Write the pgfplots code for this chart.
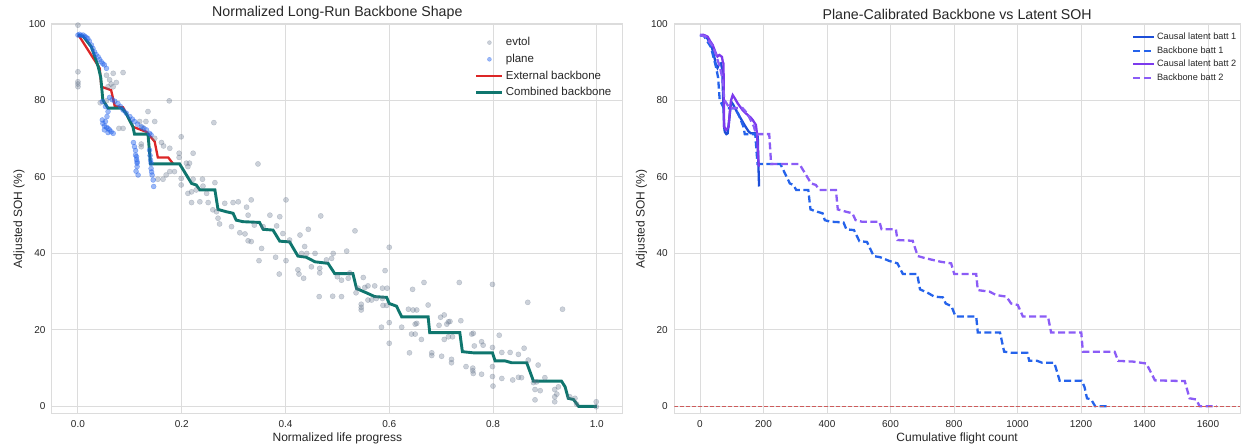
\documentclass[border=0pt]{standalone}
\usepackage{fontspec}
\setmainfont{Liberation Sans}
\usepackage{pgfplots}
\pgfplotsset{compat=1.18}

\definecolor{gridc}{RGB}{220,220,220}
\definecolor{txt}{RGB}{38,38,38}
\definecolor{evtolc}{RGB}{100,116,139}
\definecolor{planec}{RGB}{37,99,235}
\definecolor{extred}{RGB}{220,38,38}
\definecolor{combteal}{RGB}{15,118,110}
\definecolor{causal1}{RGB}{29,78,216}
\definecolor{back1}{RGB}{37,99,235}
\definecolor{causal2}{RGB}{124,58,237}
\definecolor{back2}{RGB}{139,92,246}
\definecolor{zeroc}{RGB}{205,92,92}

\pgfplotsset{
  sbstyle/.style={
    scale only axis, height=390pt,
    ymin=-2, ymax=100, ytick={0,20,40,60,80,100},
    grid=major, major grid style={gridc, line width=0.9pt},
    axis line style={gridc, line width=1pt},
    major tick length=0pt,
    tick label style={font=\fontsize{10}{12}\selectfont, text=txt},
    yticklabel style={xshift=-3pt},
    xticklabel style={yshift=-3pt},
    /pgf/number format/assume math mode=true,
    /pgf/number format/1000 sep={},
    label style={font=\fontsize{12}{14}\selectfont, text=txt},
    title style={font=\fontsize{14.2}{16}\selectfont, text=txt, at={(0.5,1)}, anchor=south, yshift=-5pt},
    xlabel style={at={(axis description cs:0.5,0)}, anchor=center, yshift=-24pt},
    ylabel style={at={(axis description cs:-0.058,0.5)}, anchor=center},
    legend cell align=left,
  }
}

\begin{document}
\begin{tikzpicture}
\useasboundingbox (0,0) rectangle (1242pt,446pt);

% ---------------- left panel ----------------
\begin{axis}[sbstyle,
  at={(52pt,32pt)}, anchor=south west, width=570.7pt,
  xmin=-0.05, xmax=1.05, xtick={0,0.2,0.4,0.6,0.8,1},
  xticklabel style={/pgf/number format/.cd, fixed, fixed zerofill, precision=1},
  title={Normalized Long-Run Backbone Shape},
  xlabel={Normalized life progress},
  ylabel={Adjusted SOH (\%)},
  legend style={at={(0.984,0.972)}, anchor=north east, draw=none, fill=none,
    inner sep=0pt, font=\fontsize{11.5}{13}\selectfont, text=txt,
    nodes={inner sep=2pt, text height=8.5pt, text depth=2.5pt},
    row sep=1.7pt,
    /tikz/every even column/.append style={column sep=7pt}},
  legend image code/.code={\draw[mark repeat=2,mark phase=2,#1] plot coordinates {(0pt,0pt) (13pt,0pt) (26pt,0pt)};},
  legend image post style={mark size=2pt},
]
% evtol scatter
\addplot[only marks, mark=*, mark size=2.6pt, color=evtolc,
  mark options={fill=evtolc, draw=evtolc, fill opacity=0.33, draw opacity=0.33}] coordinates {
(0,99.7) (0,87.5) (0,84.9) (0,84.3) (0,83.6) (0.055,86.6) (0.068,87.1) (0.087,87.3)
(0.061,85.4) (0.074,84.7) (0.064,84.3) (0.068,83.6) (0.058,83.6) (0.043,79.4) (0.055,79.9)
(0.176,79.9) (0.135,77.1) (0.119,74.5) (0.131,74.5) (0.148,74.5) (0.079,72.7) (0.087,72.7)
(0.124,73.0) (0.262,74.2) (0.148,70.1) (0.161,69.0) (0.165,68.1) (0.177,67.5) (0.199,70.5)
(0.222,66.2) (0.195,66.2) (0.195,65.1) (0.209,63.6) (0.215,63.6) (0.122,68.6) (0.122,67.9)
(0.347,63.4)
(0.212,62.7) (0.177,61.4) (0.186,61.4) (0.170,60.5) (0.164,59.4) (0.154,59.4) (0.199,59.6)
(0.199,57.9) (0.222,59.4) (0.240,59.4) (0.264,58.5) (0.212,55.7) (0.219,56.1) (0.228,56.6)
(0.241,57.6) (0.248,55.7) (0.219,53.3) (0.235,53.5) (0.251,53.3) (0.260,51.4) (0.267,50.9)
(0.270,49.2) (0.273,47.7) (0.283,53.1) (0.299,53.3) (0.309,53.5) (0.334,54.0) (0.325,52.1)
(0.328,50.0) (0.296,47.0) (0.312,45.4) (0.322,45.1) (0.328,43.3) (0.334,43.1) (0.354,41.3)
(0.340,47.4) (0.357,47.0) (0.370,50.0) (0.389,49.6) (0.383,47.2) (0.395,45.2) (0.401,54.0)
(0.408,43.5) (0.428,44.8) (0.349,38.1) (0.381,39.0) (0.401,38.1) (0.388,34.6) (0.424,35.7)
(0.426,34.6)
(0.468,49.8) (0.444,46.3) (0.437,41.8) (0.457,40.0) (0.441,40.0) (0.431,40.0) (0.435,33.5)
(0.450,36.5) (0.466,36.1) (0.466,34.9) (0.479,38.3) (0.492,40.0) (0.489,38.7) (0.518,40.6)
(0.534,45.9) (0.524,34.9) (0.500,33.9) (0.508,33.0) (0.521,33.5) (0.465,28.7) (0.491,28.8)
(0.508,28.7) (0.536,29.7) (0.540,30.9) (0.553,31.1) (0.559,31.5) (0.572,31.5) (0.550,33.7)
(0.546,26.7) (0.546,25.9) (0.546,25.2) (0.559,27.8) (0.566,27.8) (0.575,28.2) (0.587,28.2)
(0.592,35.5) (0.587,30.9) (0.596,30.9) (0.588,26.4) (0.595,26.4) (0.600,41.6) (0.600,21.9)
(0.600,16.5) (0.585,20.7) (0.624,20.7) (0.637,25.4) (0.646,25.2) (0.653,25.2) (0.645,30.6)
(0.667,32.4) (0.675,26.5) (0.639,14.0) (0.650,21.5) (0.653,21.7) (0.643,18.9) (0.650,18.9)
(0.662,17.5) (0.682,14.0) (0.682,13.3) (0.699,23.3) (0.706,23.9) (0.696,21.2) (0.711,21.5)
(0.714,22.1) (0.717,22.2) (0.701,13.1) (0.720,12.3) (0.720,11.4) (0.706,17.5) (0.714,18.2)
(0.722,18.2) (0.735,32.4) (0.738,22.4) (0.759,18.9) (0.762,19.1) (0.764,15.8) (0.778,16.9)
(0.781,16.0) (0.748,10.4) (0.761,10.0) (0.761,9.3) (0.778,8.4) (0.762,8.6) (0.799,31.9)
(0.799,15.4) (0.812,18.6) (0.799,10.4) (0.799,7.8) (0.800,5.3) (0.817,14.1) (0.833,14.1)
(0.849,13.6) (0.860,15.2) (0.868,12.1) (0.887,10.8) (0.817,7.3) (0.838,6.9) (0.849,7.6)
(0.855,7.5) (0.878,6.2) (0.884,6.4) (0.867,27.2) (0.881,4.4) (0.891,4.1) (0.881,1.7)
(0.900,7.5) (0.919,4.4) (0.919,2.5) (0.919,1.2) (0.926,5.1) (0.923,3.2) (0.934,25.4)
(0.948,2.5) (0.958,2.1) (0.961,0.6) (0.999,1.2) (0.999,-0.1)
};
\addlegendentry{evtol}
% plane scatter
\addplot[only marks, mark=*, mark size=2.5pt, color=planec,
  mark options={fill=planec, draw=planec, fill opacity=0.45, draw opacity=0.45}] coordinates {
(0,97.1) (0.003,97.3) (0.006,97.0) (0.010,97.1) (0.013,96.8) (0.016,96.5) (0.019,96.2)
(0.022,95.5) (0.026,94.5) (0.029,93.6) (0.032,92.7) (0.035,92.0) (0.039,91.4) (0.042,90.7)
(0.045,90.1) (0.048,89.6) (0.051,89.3) (0.055,88.4)
(0.047,79.7) (0.053,78.4) (0.058,77.1) (0.061,80.8) (0.066,80.2) (0.071,79.8) (0.077,79.2)
(0.082,78.4) (0.087,77.5) (0.093,76.7) (0.100,75.8) (0.105,75.1) (0.109,74.5) (0.115,73.8)
(0.122,73.1) (0.127,72.7) (0.132,72.3) (0.138,71.4) (0.141,71.0)
(0.048,74.0) (0.051,73.3) (0.055,73.0) (0.058,72.7) (0.061,72.3) (0.064,71.8) (0.068,71.4)
(0.051,72.3) (0.058,71.6) (0.047,74.9) (0.053,74.5) (0.056,75.8)
(0.107,69.0) (0.109,67.9) (0.111,66.9) (0.111,65.7) (0.113,64.6) (0.114,63.6) (0.114,62.7)
(0.113,65.3) (0.114,64.0) (0.116,60.5) (0.112,61.5)
(0.138,67.0) (0.140,64.4) (0.141,62.2) (0.143,60.5) (0.145,59.2) (0.146,57.5) (0.141,63.6)
(0.139,65.6) (0.142,61.3)
};
\addlegendentry{plane}
% external backbone
\addplot[extred, line width=2.3pt] coordinates {
(0,97.1) (0.003,96.7) (0.042,88.4) (0.045,83.6) (0.064,82.7) (0.071,78.5) (0.087,78.2)
(0.106,73.1) (0.132,71.8) (0.148,69.2) (0.154,65.1) (0.174,65.1) (0.183,63.5)
};
\addlegendentry{External backbone}
% combined backbone
\addplot[combteal, line width=2.9pt] coordinates {
(0,97.1) (0.010,96.8) (0.026,94.0) (0.039,88.9) (0.044,86.0) (0.048,80.1) (0.058,78.0)
(0.084,78.0) (0.093,76.6) (0.106,73.1) (0.109,71.2) (0.135,71.2) (0.140,63.4) (0.196,63.4)
(0.219,58.3) (0.228,57.9) (0.235,56.6) (0.264,56.6) (0.270,51.5) (0.286,50.9) (0.299,50.5)
(0.305,48.7) (0.318,48.3) (0.350,48.1) (0.357,46.3) (0.376,46.1) (0.389,43.2) (0.408,43.0)
(0.424,39.3) (0.440,39.0) (0.457,37.8) (0.482,37.4) (0.495,34.7) (0.530,34.7) (0.537,30.8)
(0.556,29.7) (0.572,28.7) (0.595,28.5) (0.600,26.9) (0.614,26.2) (0.624,23.4) (0.675,23.4)
(0.678,19.3) (0.736,19.3) (0.741,14.3) (0.762,14.0) (0.799,14.0) (0.804,11.9) (0.823,11.9)
(0.836,11.4) (0.865,11.4) (0.878,6.6) (0.932,6.6) (0.939,5.1) (0.945,2.1) (0.955,1.8)
(0.965,0) (1.0,0)
};
\addlegendentry{Combined backbone}
\end{axis}

% ---------------- right panel ----------------
\begin{axis}[sbstyle,
  at={(674.3pt,32pt)}, anchor=south west, width=565.7pt,
  xmin=-81, xmax=1701, xtick={0,200,400,600,800,1000,1200,1400,1600},
  title={Plane-Calibrated Backbone vs Latent SOH},
  xlabel={Cumulative flight count},
  ylabel={Adjusted SOH (\%)},
  legend style={at={(0.9965,0.982)}, anchor=north east, draw=none, fill=none,
    inner sep=0pt, font=\fontsize{9.2}{11}\selectfont, text=txt,
    nodes={inner sep=1.5pt, text height=7pt, text depth=2pt},
    row sep=1.5pt,
    /tikz/every even column/.append style={column sep=3pt}},
  legend image code/.code={\draw[#1] (0pt,0pt) -- (21pt,0pt);},
]
\addplot[causal1, line width=2.3pt] coordinates {
(0,97.1) (12,97.0) (19,96.8) (28,95.5) (35,94.5) (42,92.5) (45,91.4) (50,89.3) (55,88.5)
(60,89.5) (66,89.7) (70,88.0) (73,80.0) (76,73.0) (78,71.8) (83,71.2) (87,71.4) (92,75.0)
(98,79.7) (104,79.0) (119,76.6) (140,73.6) (152,72.0) (160,71.4) (176,71.4) (182,70.5)
(184,63.0) (186,57.5)
};
\addlegendentry{Causal latent batt 1}
\addplot[back1, line width=2.3pt, dash pattern=on 7pt off 3.5pt] coordinates {
(0,97.1) (13,96.8) (34,94.0) (50,88.9) (57,86.0) (62,80.1) (75,78.0) (108,78.0) (120,76.6)
(137,73.1) (141,71.2) (174,71.2) (181,63.4) (253,63.4) (283,58.3) (294,57.9) (303,56.6)
(341,56.6) (348,51.5) (369,50.9) (386,50.5) (393,48.7) (410,48.3) (452,48.1) (461,46.3)
(485,46.1) (502,43.2) (526,43.0) (547,39.3) (568,39.0) (597,38.0) (622,37.4) (639,34.6)
(684,34.6) (693,30.6) (717,29.7) (738,28.7) (765,28.5) (774,26.9) (792,26.2) (805,23.5)
(870,23.5) (875,19.3) (945,19.3) (958,14.3) (983,14.0) (1031,14.0) (1037,11.9) (1062,11.9)
(1078,11.4) (1116,11.4) (1133,6.7) (1202,6.7) (1211,5.1) (1219,2.1) (1232,1.8) (1245,0)
(1290,0)
};
\addlegendentry{Backbone batt 1}
\addplot[causal2, line width=2.3pt] coordinates {
(0,97.1) (10,97.2) (24,96.7) (32,95.5) (40,94.5) (50,92.3) (55,91.5) (61,91.9) (69,91.4)
(72,90.0) (74,89.7) (75,80.0) (76,73.1) (82,72.3) (86,72.6) (90,73.1) (95,78.0) (98,80.1)
(103,81.4) (110,80.5) (119,79.2) (134,77.5) (150,76.2) (160,75.5) (166,74.9) (176,73.6)
(180,71.0) (182,67.0) (185,62.7)
};
\addlegendentry{Causal latent batt 2}
\addplot[back2, line width=2.3pt, dash pattern=on 7pt off 3.5pt] coordinates {
(0,97.1) (16,96.8) (42,94.0) (62,88.9) (70,86.0) (77,80.1) (93,78.0) (134,78.0) (149,76.6)
(170,73.1) (176,71.2) (218,71.2) (224,63.4) (313,63.4) (350,58.3) (365,57.9) (376,56.6)
(428,56.6) (434,51.5) (460,50.9) (480,50.5) (490,48.7) (510,48.3) (565,48.3) (572,46.3)
(617,46.3) (622,43.5) (670,43.3) (686,39.3) (712,38.7) (759,37.8) (791,37.4) (801,34.6)
(870,34.6) (875,30.4) (912,30.0) (933,29.1) (965,28.7) (980,26.9) (1001,26.5) (1017,23.5)
(1096,23.5) (1106,19.3) (1201,19.3) (1206,14.3) (1306,14.3) (1317,11.9) (1364,11.7)
(1406,11.2) (1433,6.8) (1527,6.6) (1542,2.1) (1563,1.8) (1574,0) (1627,0)
};
\addlegendentry{Backbone batt 2}
\addplot[zeroc, line width=1.2pt, dash pattern=on 4pt off 2pt, forget plot] coordinates {(-81,0) (1701,0)};
\end{axis}
\end{tikzpicture}
\end{document}
